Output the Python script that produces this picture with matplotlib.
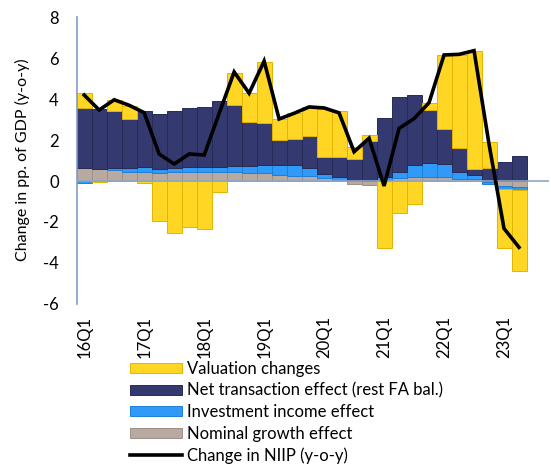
import numpy as np
import matplotlib
matplotlib.use("Agg")
import matplotlib.pyplot as plt
from matplotlib.patches import Patch
from matplotlib.lines import Line2D

plt.rcParams['font.family'] = ['Lato', 'DejaVu Sans']
plt.rcParams['axes.unicode_minus'] = False

quarters = [f"{y}Q{q}" for y in range(16, 24) for q in range(1, 5)][:30]

nominal_growth = [0.65, 0.57, 0.52, 0.45, 0.45, 0.41, 0.45, 0.45, 0.45, 0.45,
                  0.45, 0.37, 0.37, 0.28, 0.24, 0.24, 0.13, 0.03, -0.15, -0.20,
                  0.05, 0.16, 0.21, 0.21, 0.21, 0.09, 0.09, -0.03, -0.26, -0.29]
investment_income = [-0.10, 0.02, 0.13, 0.20, 0.25, 0.18, 0.20, 0.25, 0.25, 0.25,
                     0.30, 0.38, 0.43, 0.52, 0.55, 0.40, 0.22, 0.19, 0.05, 0.02,
                     0.16, 0.29, 0.57, 0.67, 0.62, 0.33, 0.19, -0.13, -0.14, -0.16]
net_transaction = [2.93, 2.95, 2.79, 2.40, 2.72, 2.70, 2.79, 2.85, 2.93, 3.21,
                   2.95, 2.13, 2.02, 1.20, 1.26, 1.56, 0.80, 0.93, 1.03, 1.92,
                   2.88, 3.67, 3.40, 2.58, 1.69, 1.21, 0.32, 0.62, 0.93, 1.20]
valuation = [0.71, -0.05, 0.52, 0.62, -0.08, -1.96, -2.56, -2.23, -2.36, -0.55,
             1.59, 1.41, 3.00, 1.03, 1.25, 1.42, 2.35, 2.27, 0.57, 0.33,
             -3.29, -1.54, -1.14, 0.37, 3.66, 4.55, 5.76, 1.28, -2.85, -3.96]
niip_change = [4.20, 3.47, 3.97, 3.70, 3.34, 1.32, 0.83, 1.32, 1.27, 3.30,
               5.33, 4.29, 5.86, 3.03, 3.31, 3.62, 3.57, 3.33, 1.43, 2.09,
               -0.24, 2.57, 3.05, 3.83, 6.16, 6.19, 6.37, 1.80, -2.32, -3.24]

series = [
    ("Nominal growth effect", nominal_growth, "#B8A9A1", "#9E8F88"),
    ("Investment income effect", investment_income, "#2F9AF7", "#1F7FD6"),
    ("Net transaction effect (rest FA bal.)", net_transaction, "#343A6F", "#262B55"),
    ("Valuation changes", valuation, "#FFD624", "#E3B400"),
]

fig = plt.figure(figsize=(5.51, 4.67), dpi=100)
W, H = 551, 467
ax = fig.add_axes([76.7 / W, 1 - 303.8 / H, (549 - 76.7) / W, (303.8 - 17.3) / H])

x = np.arange(len(quarters))
pos = np.zeros(len(x))
neg = np.zeros(len(x))
for name, vals, fc, ec in series:
    v = np.array(vals, dtype=float)
    bottom = np.where(v >= 0, pos, neg)
    ax.bar(x, v, bottom=bottom, width=1.0, color=fc, edgecolor=ec, linewidth=0.7, zorder=2)
    pos += np.where(v > 0, v, 0)
    neg += np.where(v < 0, v, 0)

ax.axhline(0, color="#8FA6C8", lw=1.2, zorder=3)
ax.plot(x, niip_change, color="black", lw=2.6, zorder=4, solid_joinstyle='miter')

ax.set_xlim(-0.5, 31.0)
ax.set_ylim(-6, 8)
ax.set_yticks(range(-6, 9, 2))
ax.set_xticks(x[::4])
ax.set_xticklabels(quarters[::4], rotation=90, fontsize=12)
ax.tick_params(axis='x', length=0, pad=9)
ax.tick_params(axis='y', length=0, pad=13, labelsize=12)
for s in ["top", "right", "bottom"]:
    ax.spines[s].set_visible(False)
ax.spines["left"].set_color("#7F9DC8")
ax.spines["left"].set_linewidth(1.2)
ax.set_facecolor("none")

fig.text(22 / W, 1 - 160 / H, "Change in pp. of GDP (y-o-y)", rotation=90,
         ha="center", va="center", fontsize=11.5)

handles = [Patch(facecolor=s[2], edgecolor=s[3], linewidth=0.7) for s in series[::-1]]
labels = [s[0] for s in series[::-1]]
handles.append(Line2D([0], [0], color="black", lw=2.6))
labels.append("Change in NIIP (y-o-y)")
fig.legend(handles, labels, loc="upper left", bbox_to_anchor=(130 / W, 1 - 361 / H),
           frameon=False, fontsize=12, handlelength=3.1, handleheight=0.55,
           handletextpad=0.3, labelspacing=0.33, borderaxespad=0, borderpad=0)

fig.savefig("out.png", dpi=100)
